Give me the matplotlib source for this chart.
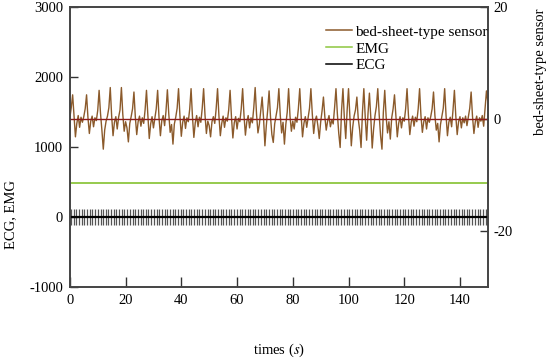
import numpy as np
import matplotlib
matplotlib.use("Agg")
from matplotlib import pyplot as plt

plt.rcParams['font.family'] = ['Liberation Serif', 'DejaVu Serif']
plt.rcParams['mathtext.fontset'] = 'stix'
plt.rcParams['axes.unicode_minus'] = False

# bed-sheet-type sensor, one value every 0.5 s from 0 to 150 s (right axis)
bed_sensor = [
    0.2, 2.0, 4.3, 0.5, -3.2, -0.8, 0.6, -1.5, 0.3, -0.6,
    0.4, 1.8, 4.3, 0.2, -2.6, -0.4, 0.5, -1.4, 0.2, -0.3,
    1.5, 5.1, 1.0, -2.0, -5.4, -2.0, -0.4, 0.5, 2.0, 5.6,
    0.5, -3.0, -0.6, 0.4, -1.8, 0.3, 1.6, 5.6, 0.8, -2.2,
    -0.5, -1.6, -4.1, -0.8, 0.4, 1.8, 4.8, 0.3, -2.8, -0.5,
    0.5, -1.3, 0.2, -0.8, 1.6, 5.1, 0.6, -3.5, -0.9, 0.4,
    -1.6, 0.1, 1.8, 5.1, 0.2, -3.0, -0.3, 0.6, -1.2, 1.4,
    5.2, 0.9, -2.4, -1.0, -4.5, -0.9, 0.3, 1.9, 5.4, 0.6,
    -3.1, -0.6, 0.5, -1.7, 0.2, -0.5, 1.7, 5.4, 0.4, -3.3,
    -0.7, 0.6, -1.4, 0.3, -0.6, 1.9, 5.4, 0.7, -2.6, -0.4,
    -1.2, -3.2, -0.5, 0.4, -0.8, 1.8, 5.4, 0.5, -3.0, -0.8,
    0.5, -1.5, 0.2, -0.4, 1.6, 5.1, 0.3, -3.4, -0.7, 0.4,
    -1.8, 0.1, -0.5, 1.8, 5.4, 0.6, -2.9, -0.5, 0.6, -1.6,
    0.2, -0.7, 2.0, 5.6, 0.8, -2.5, -1.0, 1.5, 3.9, 0.2,
    -4.8, -1.2, 1.6, 5.0, 0.4, -2.8, -4.2, -0.9, 0.5, 2.0,
    5.4, 0.7, -2.5, -0.6, -4.5, -1.0, 1.2, 5.4, 0.5, -2.2,
    -0.4, -1.8, 0.3, -0.6, 1.8, 5.4, 0.6, -3.2, -0.8, 0.4,
    -1.5, 0.2, 1.9, 5.4, 0.9, -2.6, -0.3, 0.5, -1.2, -3.5,
    -0.6, 1.4, 3.9, 0.4, -2.0, -0.4, 0.6, -1.4, -0.2, -0.9,
    2.0, 5.4, 0.9, -2.6, -5.1, 1.5, 5.4, 0.2, -3.5, 1.5,
    5.4, 0.4, -4.8, -1.5, 0.5, 1.6, 3.9, 0.0, -2.0, -5.1,
    1.2, 5.4, 0.3, -3.8, 1.0, 4.6, 0.2, -5.2, -1.8, 0.6,
    2.2, 5.4, 0.8, -3.0, -5.4, 1.2, 5.1, 0.4, -2.5, -0.5,
    -3.6, 0.2, 1.8, 4.3, 0.6, -3.2, -0.8, 0.4, -1.6, 0.2,
    -0.4, 1.8, 5.4, 0.7, -2.8, -0.6, 0.5, -1.3, 0.3, -0.5,
    1.8, 5.4, 0.5, -2.4, -0.5, 0.4, -1.8, 0.2, -0.6, 0.4,
    1.8, 4.8, 0.6, -2.0, -0.8, -4.1, -1.0, 0.4, 1.9, 5.4,
    0.6, -3.0, -0.6, 0.3, -1.4, 1.6, 5.1, 0.5, -2.8, -0.5,
    0.4, -1.6, 0.2, -0.7, 0.5, -1.2, 0.4, 1.9, 4.8, 0.4,
    -2.6, -0.5, 0.5, -1.5, 0.2, -0.4, 0.6, -1.3, 1.8, 5.0,
    3.0,
]
bed_time = np.linspace(0, 150, len(bed_sensor))

# ECG R-peak times (s) and spike extremes
ecg_beats = [
    0.4, 1.4, 2.3, 3.3, 4.2, 5.2, 6.2, 7.1, 8.1, 9.0,
    10.0, 11.0, 11.9, 12.9, 13.8, 14.8, 15.8, 16.7, 17.7, 18.6,
    19.6, 20.6, 21.5, 22.5, 23.4, 24.4, 25.4, 26.3, 27.3, 28.2,
    29.2, 30.2, 31.1, 32.1, 33.0, 34.0, 35.0, 35.9, 36.9, 37.8,
    38.8, 39.8, 40.7, 41.7, 42.6, 43.6, 44.6, 45.5, 46.5, 47.4,
    48.4, 49.4, 50.3, 51.3, 52.2, 53.2, 54.2, 55.1, 56.1, 57.0,
    58.0, 59.0, 59.9, 60.9, 61.8, 62.8, 63.8, 64.7, 65.7, 66.6,
    67.6, 68.6, 69.5, 70.5, 71.4, 72.4, 73.4, 74.3, 75.3, 76.2,
    77.2, 78.2, 79.1, 80.1, 81.0, 82.0, 83.0, 83.9, 84.9, 85.8,
    86.8, 87.8, 88.7, 89.7, 90.6, 91.6, 92.6, 93.5, 94.5, 95.4,
    96.4, 97.4, 98.3, 99.3, 100.2, 101.2, 102.2, 103.1, 104.1, 105.0,
    106.0, 107.0, 107.9, 108.9, 109.8, 110.8, 111.8, 112.7, 113.7, 114.6,
    115.6, 116.6, 117.5, 118.5, 119.4, 120.4, 121.4, 122.3, 123.3, 124.2,
    125.2, 126.2, 127.1, 128.1, 129.0, 130.0, 131.0, 131.9, 132.9, 133.8,
    134.8, 135.8, 136.7, 137.7, 138.6, 139.6, 140.6, 141.5, 142.5, 143.4,
    144.4, 145.4, 146.3, 147.3, 148.2, 149.2,
]
ecg_top = 120
ecg_bottom = -110
ecg_base = [0, 0]

emg_time = [0, 150]
emg = [480, 480]

fig = plt.figure(figsize=(5.5, 3.61), dpi=100)
ax = fig.add_axes([0.127, 0.205, 0.76, 0.776])
ax2 = ax.twinx()

ax.vlines(ecg_beats, ecg_bottom, ecg_top, color='#555555', lw=0.9)
l_ecg, = ax.plot(emg_time, ecg_base, color='black', lw=1.6, label='ECG')
l_emg, = ax.plot(emg_time, emg, color='#8dc63f', lw=1.3, label='EMG')

l_bed, = ax2.plot(bed_time, bed_sensor, color='#8b5a2b', lw=1.0,
                  label='bed-sheet-type sensor')
ax2.axhline(0, color='#8b1a1a', lw=1.0)

ax.set_xlim(0, 150)
ax.set_ylim(-1000, 3000)
ax.set_yticks([-1000, 0, 1000, 2000, 3000])
ax.set_xticks(np.arange(0, 141, 20))
ax2.set_ylim(-30, 20)
ax2.set_yticks([-20, 0, 20])

for a in (ax, ax2):
    a.tick_params(direction='in', length=6, width=1, labelsize=10.5,
                  colors='#333333', labelcolor='black')
    for s in a.spines.values():
        s.set_color('#444444')
        s.set_linewidth(1.2)
ax.tick_params(axis='y', pad=5)
ax.tick_params(axis='x', length=7, pad=5)
ax2.tick_params(axis='y', pad=4)

ax.set_xlabel('times ($s$)', fontsize=10.5, labelpad=25)
ax.set_ylabel('ECG, EMG', fontsize=10.5)
ax.yaxis.set_label_coords(-0.127, 0.26)
ax2.set_ylabel('bed-sheet-type sensor', fontsize=10.5)
ax2.yaxis.set_label_coords(1.11, 0.77)

leg = ax2.legend([l_bed, l_emg, l_ecg], [h.get_label() for h in (l_bed, l_emg, l_ecg)],
                 loc='upper right', bbox_to_anchor=(1.0, 0.935), frameon=False,
                 fontsize=11, handlelength=1.7, handletextpad=0.25,
                 labelspacing=0.2, borderaxespad=0, borderpad=0)
for ln in leg.get_lines():
    ln.set_linewidth(1.1)

fig.savefig('out.png', dpi=100)
